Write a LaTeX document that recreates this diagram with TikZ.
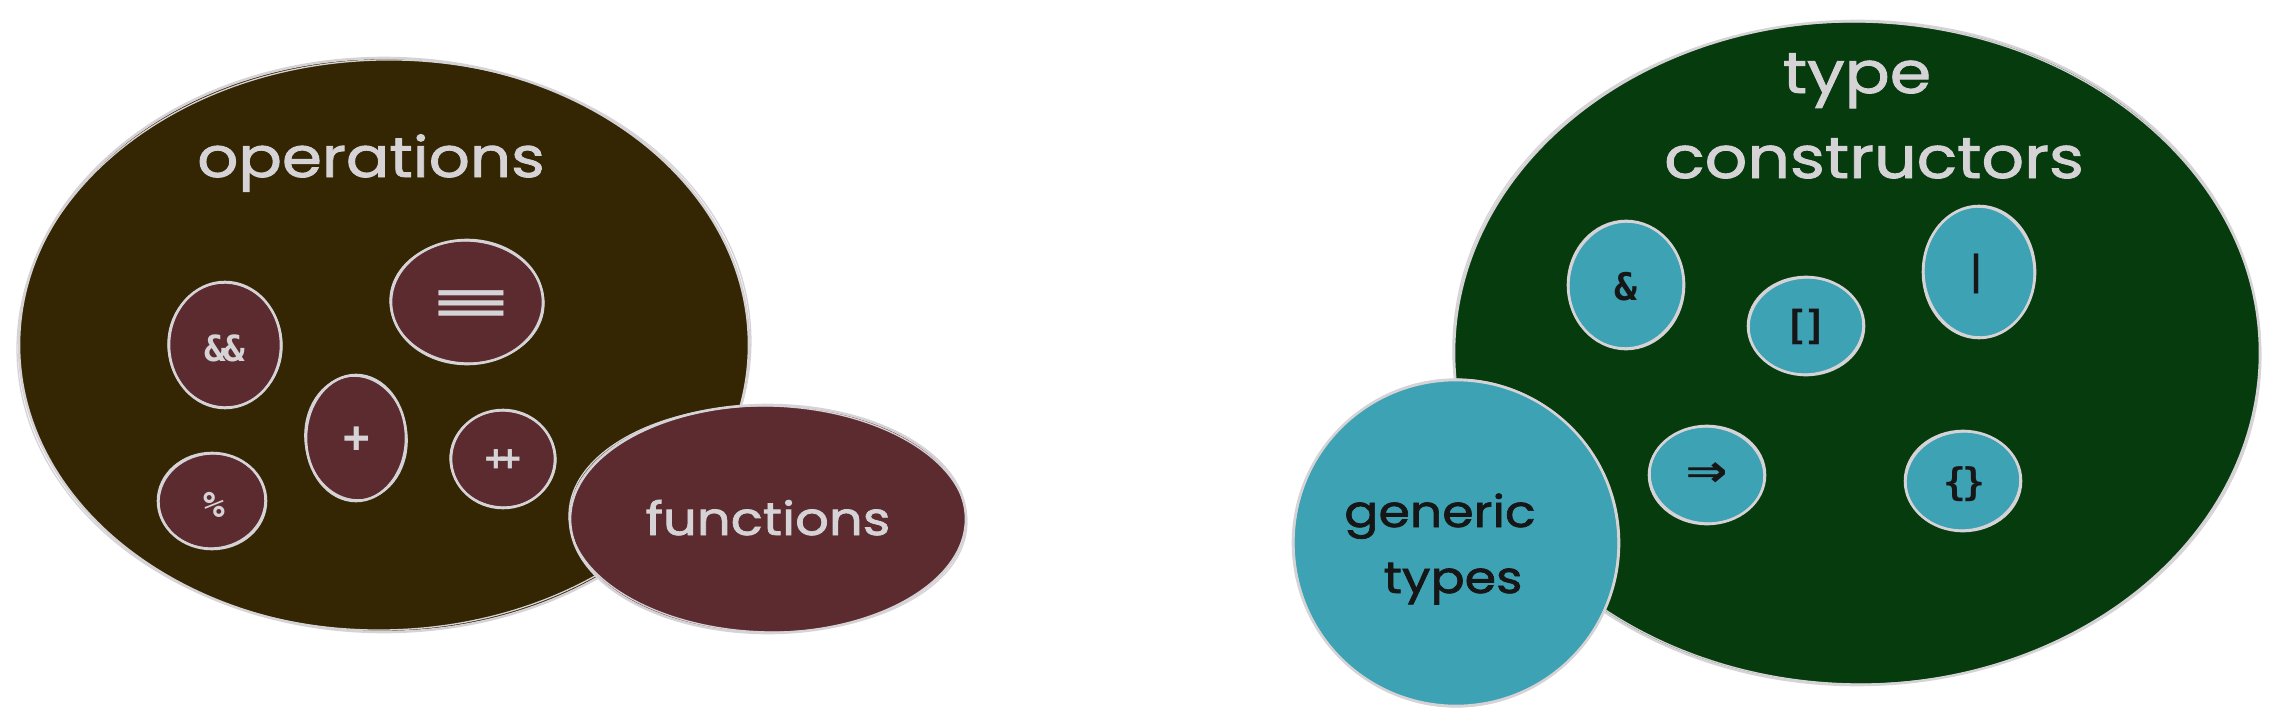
\documentclass[tikz,border=0pt]{standalone}
\usepackage{fontspec}
\usetikzlibrary{shapes.geometric}
\newfontfamily\handfont[FakeStretch=1.15,FakeBold=1.6]{Poppins}
\newfontfamily\codefont{DejaVu Sans Mono}
\definecolor{opsbg}{RGB}{52,37,3}
\definecolor{opmaroon}{RGB}{91,43,48}
\definecolor{tcbg}{RGB}{6,59,14}
\definecolor{fnteal}{RGB}{62,162,181}
\definecolor{chalk}{RGB}{214,211,215}
\definecolor{ink}{RGB}{22,22,22}
\tikzset{
  blob/.style={ellipse, draw=chalk, line width=2.6pt, inner sep=0pt},
  sketch/.style={draw=chalk, line width=1.3pt},
  hand/.style={font=\handfont\fontsize{#1}{#1}\selectfont, inner sep=0pt, anchor=base},
  code/.style={font=\codefont\bfseries\fontsize{#1}{#1}\selectfont, inner sep=0pt, anchor=center},
}
\begin{document}
\begin{tikzpicture}[x=1pt,y=-1pt]
\useasboundingbox (0,0) rectangle (2270,725);

% ---------- left group ----------
\node[blob, fill=opsbg, minimum width=730pt, minimum height=574pt] (ops) at (384,345) {};
\draw[sketch, rotate around={1.5:(ops.center)}] (ops.center) ellipse [x radius=367pt, y radius=285pt];
\node[hand=56, text=chalk] (opstxt) at (371,177) {operations};

\node[blob, fill=opmaroon, minimum width=112pt, minimum height=126pt] (andand) at (225,345) {};
\draw[sketch, rotate around={4:(andand.center)}] (andand.center) ellipse [x radius=57pt, y radius=62pt];
\node[code=36, text=chalk] (andandtxt) at (225,348) {\&\kern-3pt\&};

\node[blob, fill=opmaroon, minimum width=152pt, minimum height=124pt] (equiv) at (467,302) {};
\draw[sketch, rotate around={-3:(equiv.center)}] (equiv.center) ellipse [x radius=77pt, y radius=61pt];
\node[code=30, text=chalk] (equivtxt) at (471,304) {\scalebox{4.2}[1.5]{≡}};

\node[blob, fill=opmaroon, minimum width=100pt, minimum height=126pt] (plus) at (356,438) {};
\draw[sketch, rotate around={6:(plus.center)}] (plus.center) ellipse [x radius=51pt, y radius=62pt];
\node[code=44, text=chalk] (plustxt) at (357,440) {+};

\node[blob, fill=opmaroon, minimum width=104pt, minimum height=98pt] (pp) at (503,459) {};
\draw[sketch, rotate around={-4:(pp.center)}] (pp.center) ellipse [x radius=53pt, y radius=48pt];
\node[code=36, text=chalk] (pptxt) at (503,460) {+\kern-8pt+};

\node[blob, fill=opmaroon, minimum width=108pt, minimum height=96pt] (pct) at (212,501) {};
\draw[sketch, rotate around={5:(pct.center)}] (pct.center) ellipse [x radius=53pt, y radius=47pt];
\node[code=36, text=chalk] (pcttxt) at (214,505) {\%};

\node[blob, fill=opmaroon, minimum width=396pt, minimum height=228pt] (fn) at (768,519) {};
\draw[sketch, rotate around={-1.5:(fn.center)}] (fn.center) ellipse [x radius=199pt, y radius=113pt];
\node[hand=46, text=chalk] (fntxt) at (768,535) {functions};

% ---------- right group ----------
\node[blob, fill=tcbg, minimum width=806pt, minimum height=664pt] (tc) at (1857,353) {};
\draw[sketch, rotate around={-1.5:(tc.center)}] (tc.center) ellipse [x radius=404pt, y radius=331pt];
\node[hand=58, text=chalk] (tctxta) at (1857,93) {type};
\node[hand=58, text=chalk] (tctxtb) at (1874,178) {constructors};

\node[blob, fill=fnteal, minimum width=116pt, minimum height=128pt] (amp) at (1626,285) {};
\draw[sketch, rotate around={-5:(amp.center)}] (amp.center) ellipse [x radius=57pt, y radius=63pt];
\node[code=38, text=ink] (amptxt) at (1626,287) {\&};

\node[blob, fill=fnteal, minimum width=116pt, minimum height=98pt] (brk) at (1806,326) {};
\draw[sketch, rotate around={4:(brk.center)}] (brk.center) ellipse [x radius=57pt, y radius=48pt];
\node[code=40, text=ink] (brktxt) at (1806,327) {[\kern-6pt]};

\node[blob, fill=fnteal, minimum width=112pt, minimum height=132pt] (bar) at (1979,272) {};
\draw[sketch, rotate around={3:(bar.center)}] (bar.center) ellipse [x radius=55pt, y radius=65pt];
\node[code=40, text=ink] (bartxt) at (1977,274) {|};

\node[blob, fill=fnteal, minimum width=116pt, minimum height=98pt] (arr) at (1707,475) {};
\draw[sketch, rotate around={-4:(arr.center)}] (arr.center) ellipse [x radius=57pt, y radius=48pt];
\node[code=36, text=ink] (arrtxt) at (1707,476) {\scalebox{1.9}[1.6]{⇒}};

\node[blob, fill=fnteal, minimum width=116pt, minimum height=100pt] (brc) at (1963,481) {};
\draw[sketch, rotate around={5:(brc.center)}] (brc.center) ellipse [x radius=57pt, y radius=49pt];
\node[code=38, text=ink] (brctxt) at (1964,484) {\{\kern-4pt\}};

\node[blob, fill=fnteal, minimum width=326pt, minimum height=326pt] (gen) at (1456,543) {};
\draw[sketch, rotate around={3:(gen.center)}] (gen.center) ellipse [x radius=162pt, y radius=164pt];
\node[hand=44, text=ink] (gentxta) at (1440,527) {generic};
\node[hand=44, text=ink] (gentxtb) at (1453,593) {types};
\end{tikzpicture}
\end{document}
